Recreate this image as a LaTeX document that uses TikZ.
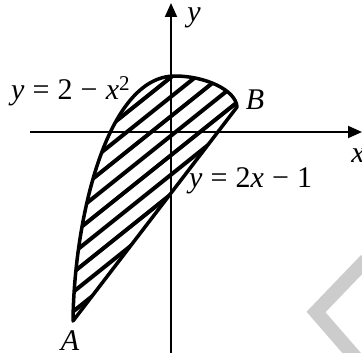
\documentclass[tikz,border=0pt]{standalone}
\usepackage{fontspec}
\setmainfont{Liberation Serif}
\usetikzlibrary{arrows.meta}
\newcommand{\eqgap}{\hspace{0.27em}}
\begin{document}
\begin{tikzpicture}[x=1pt,y=-1pt,
    axis/.style={line width=2pt,-{Triangle[length=14pt,width=12pt]}},
    rim/.style={line width=3.5pt,line join=round},
    hatch/.style={line width=4pt},
    mark grey/.style={black!20,line width=14pt},
    lbl/.style={font=\fontsize{30}{32}\selectfont,inner sep=0pt}]
  \useasboundingbox (0,0) rectangle (362,353);
  % faint mark in the corner
  \coordinate (m1) at (366,260);
  \coordinate (m2) at (316,312);
  \coordinate (m3) at (356,358);
  \draw[mark grey] (m1) -- (m2) -- (m3);
  % axes
  \coordinate (xl) at (30,132);
  \coordinate (xr) at (362,132);
  \coordinate (yb) at (171,353);
  \coordinate (yt) at (171,3);
  \draw[axis] (xl) -- (xr);
  \draw[axis] (yb) -- (yt);
  % the region between the two graphs
  \coordinate (A) at (73,321);
  \coordinate (T) at (175,76);
  \coordinate (B) at (237,107);
  \begin{scope}
    \clip (A) .. controls (74,222) and (106,76) .. (T)
              .. controls (205,76) and (236,90) .. (B) -- cycle;
    \foreach \c in {0,...,9}
      \draw[hatch] (40,{338-19.5*\c}) -- ++(260,-208);
  \end{scope}
  \draw[rim] (A) .. controls (74,222) and (106,76) .. (T)
             .. controls (205,76) and (236,90) .. (B) -- cycle;
  % labels
  \node[lbl,anchor=base west] (eqp) at (11,100)
    {\textit{y}\eqgap=\eqgap2\eqgap−\eqgap\textit{x}\textsuperscript{2}};
  \node[lbl,anchor=base west] (eql) at (189,187)
    {\textit{y}\eqgap=\eqgap2\textit{x}\eqgap−\eqgap1};
  \node[lbl,anchor=base] (lA) at (70,350) {\textit{A}};
  \node[lbl,anchor=base] (lB) at (255,110) {\textit{B}};
  \node[lbl,anchor=base] (ly) at (194,22) {\textit{y}};
  \node[lbl,anchor=base] (lx) at (358,163) {\textit{x}};
\end{tikzpicture}
\end{document}
